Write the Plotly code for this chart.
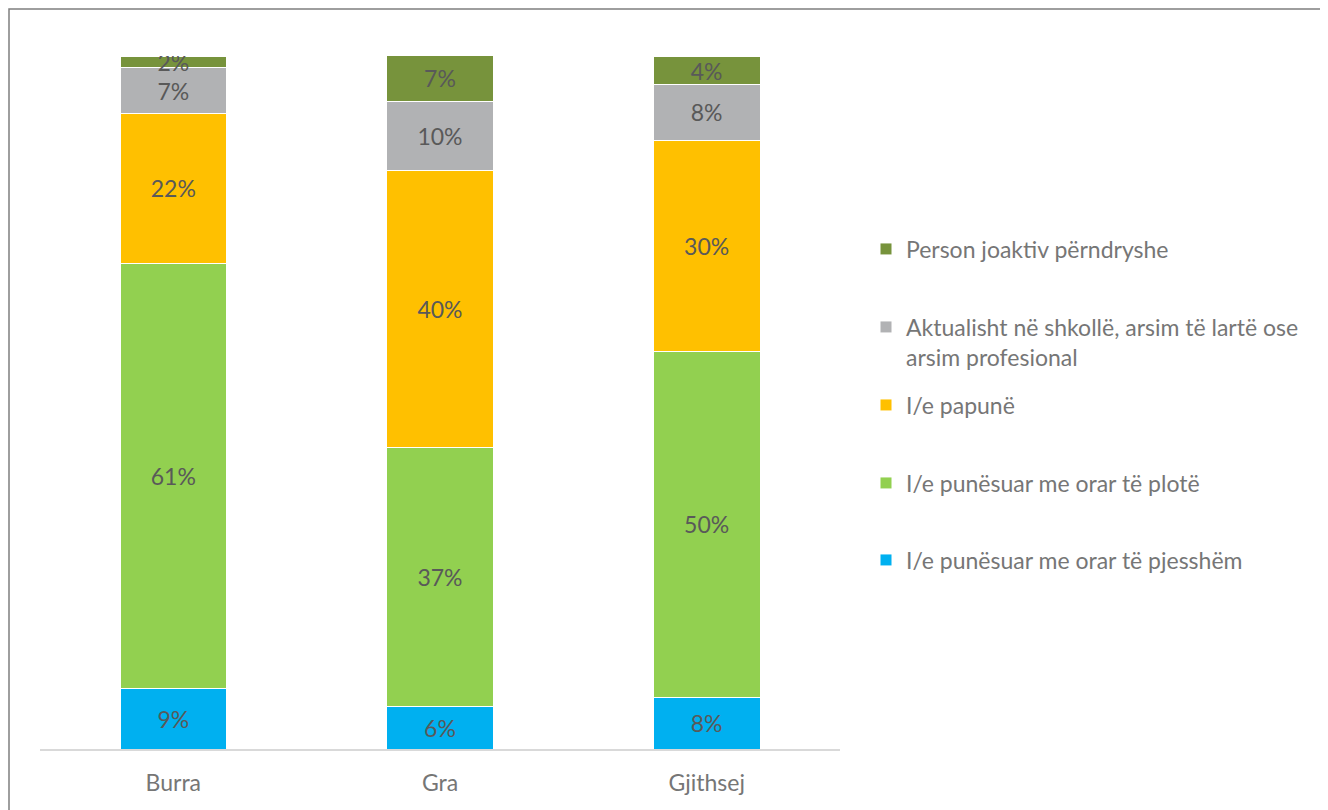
import plotly.graph_objects as go

# categories and shares (%)
groups = ["Burra", "Gra", "Gjithsej"]

series_names = [
    "I/e punësuar me orar të pjesshëm",
    "I/e punësuar me orar të plotë",
    "I/e papunë",
    "Aktualisht në shkollë, arsim të lartë ose<br>arsim profesional",
    "Person joaktiv përndryshe",
]
part_time = [8.8, 6.1, 7.5]
full_time = [61.3, 37.4, 49.9]
unemployed = [21.6, 40.0, 30.4]
in_school = [6.6, 10.0, 8.1]
inactive = [1.7, 6.6, 4.0]

series_values = [part_time, full_time, unemployed, in_school, inactive]
colors = ["#00B0F0", "#92D050", "#FFC000", "#B1B2B4", "#77933C"]

# the page adds an 8px body margin, so the figure is a bit smaller
OFF = 8
W, H = 1328 - OFF, 810 - OFF
# plot area in page pixels: x 40..840, y 56..749
L, R, T, B = 40 - OFF, W - (840 - OFF), 56 - OFF, H - (749 - OFF)
pw, ph = W - L - R, H - T - B


def px_x(x):
    # page pixel -> paper x
    return (x - OFF - L) / pw


def px_y(y):
    # page pixel -> paper y
    return (H - B - (y - OFF)) / ph


legend_ids = ["legend5", "legend4", "legend3", "legend2", "legend"]
legend_y = [560, 483, 405, 342, 249]

fig = go.Figure()
for name, vals, col, lid in zip(series_names, series_values, colors, legend_ids):
    fig.add_trace(go.Bar(
        x=groups, y=vals, name=name,
        marker=dict(color=col, line=dict(color="white", width=1)),
        texttemplate="%{y:.0f}%", textposition="inside",
        insidetextanchor="middle",
        textfont=dict(family="Lato", size=23, color="#595959"),
        hoverinfo="skip",
        legend=lid,
    ))

leg_font = dict(family="Lato", size=23, color="#767676")
legends = {}
for lid, ly in zip(legend_ids, legend_y):
    legends[lid] = dict(
        x=px_x(866), xanchor="left",
        y=px_y(ly), yanchor="middle",
        font=leg_font, valign="top",
        bgcolor="rgba(0,0,0,0)",
    )

fig.update_layout(
    width=W, height=H,
    margin=dict(l=L, r=R, t=T, b=B, pad=0),
    barmode="stack",
    bargap=0.6,
    showlegend=True,
    plot_bgcolor="white",
    paper_bgcolor="white",
    uniformtext=dict(minsize=23, mode="show"),
    font=dict(family="Lato", color="#767676"),
    **legends,
    xaxis=dict(
        showline=True, linecolor="#D9D9D9", linewidth=2,
        tickfont=dict(family="Lato", size=23, color="#767676"),
        ticklabelstandoff=12,
        showgrid=False, fixedrange=True,
    ),
    yaxis=dict(
        range=[0, 100], visible=False, showgrid=False, fixedrange=True,
    ),
    shapes=[dict(
        type="rect", xref="paper", yref="paper",
        x0=px_x(9), x1=px_x(1345), y0=px_y(830), y1=px_y(9),
        line=dict(color="#7F7F7F", width=1.5),
        fillcolor="rgba(0,0,0,0)", layer="below",
    )],
)

fig.write_html("out.html")
